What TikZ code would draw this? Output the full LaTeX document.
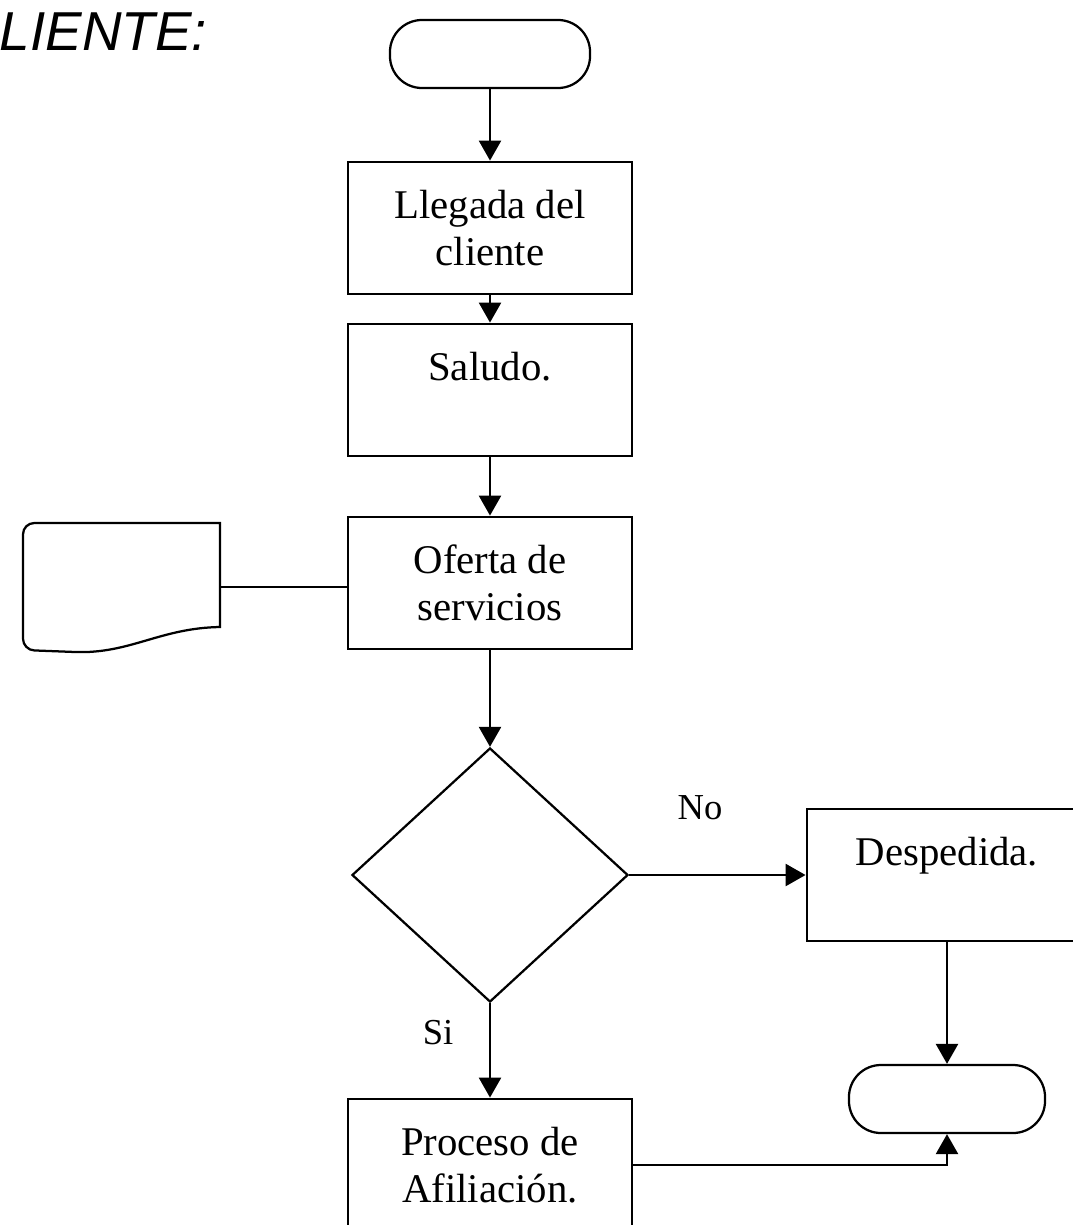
\documentclass[tikz,border=0pt]{standalone}
\usepackage{fontspec}
\setmainfont{Liberation Serif}
\newfontfamily\titlefont{Liberation Sans}
\usetikzlibrary{positioning,arrows.meta,shapes.geometric,calc}

\begin{document}
\begin{tikzpicture}[
    x=0.025cm, y=-0.025cm,
    font=\fontsize{29}{33}\selectfont,
    box/.style={draw, line width=2pt, minimum width=7.1cm, minimum height=3.3cm, align=center, inner sep=2pt},
    term/.style={draw, line width=1.6pt, rounded corners=0.8cm, minimum width=5cm, minimum height=1.7cm},
    decision/.style={diamond, draw, line width=1.6pt, aspect=1.09, minimum width=6.9cm, minimum height=6.35cm, inner sep=0pt},
    arr/.style={line width=1.8pt, -{Triangle[length=0.5cm, width=0.55cm]}},
    tie/.style={line width=1.6pt},
    lbl/.style={font=\fontsize{26}{30}\selectfont},
  ]
  \useasboundingbox (0,0) rectangle (1073,1225);

  \node[anchor=base west, font=\titlefont\itshape\fontsize{39}{44}\selectfont] (title) at (-5,50) {LIENTE:};

  % Main column.
  \node[term] (start) at (490,54) {};
  \node[box] (arrive) at (490,228) {Llegada del\\cliente};
  \node[box] (greet) at (490,390) {Saludo.\\~};
  \node[box] (offer) at (490,583) {Oferta de\\servicios};
  \node[decision] (ask) at (490,875) {};
  \node[box] (join) at (490,1165) {Proceso de\\Afiliación.};

  % Right branch.
  \node[box, minimum width=7cm] (bye) at (947,875) {Despedida.\\~};
  \node[term, minimum width=4.9cm] (stop) at (947,1099) {};

  % Document on the left.
  \node[minimum width=4.9cm, minimum height=3.3cm] (doc) at (121,587) {};
  \draw[tie] (220,627) .. controls (160,628) and (130,654) .. (75,652)
    [rounded corners=8pt] -- (23,650) -- (23,523) [sharp corners] -- (220,523) -- cycle;

  \node[lbl] (no) at (700,808) {No};
  \node[lbl] (si) at (438,1033) {Si};

  \draw[arr] (start) -- (arrive);
  \foreach \a/\b in {arrive/greet, greet/offer, offer/ask} \draw[arr] (\a) -- (\b);
  \draw[arr] (ask.east) -- (bye.west);
  \draw[arr] (ask.south) -- (join.north);
  \draw[arr] (bye.south) -- (stop.north);
  \draw[arr] (join.east) -| (stop.south);
  \draw[tie] (doc.east) -- (doc.east -| offer.west);
\end{tikzpicture}
\end{document}
